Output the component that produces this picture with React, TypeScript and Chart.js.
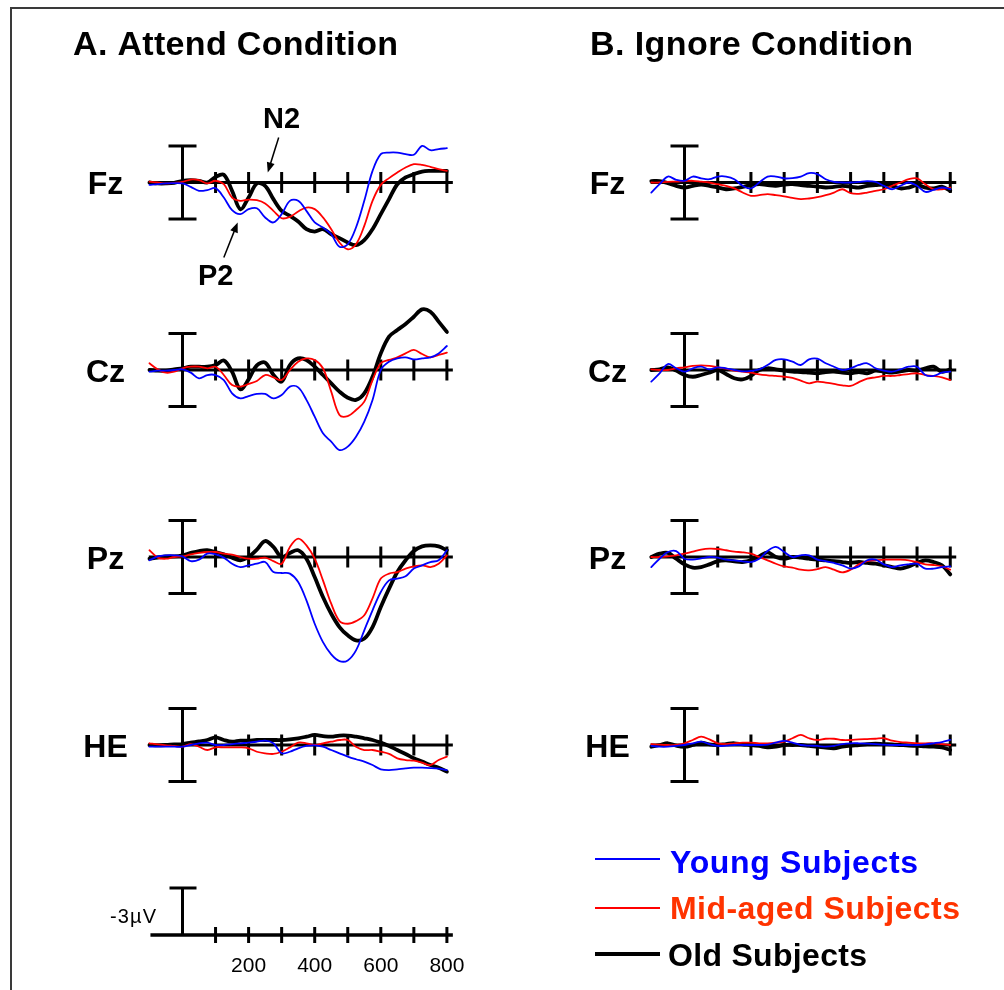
import React, { useEffect, useRef } from "react";
import { Chart, registerables } from "chart.js";

Chart.register(...registerables);

// ---------------- DATA ----------------
const times = [-100, -75, -50, -25, 0, 25, 50, 75, 100, 125, 150, 175, 200, 225, 250, 275, 300, 325, 350, 375, 400, 425, 450, 475, 500, 525, 550, 575, 600, 625, 650, 675, 700, 725, 750, 775, 800];

const electrodes = ["Fz", "Cz", "Pz", "HE"];
const conditionTitles = ["A. Attend Condition", "B. Ignore Condition"];
const groups = ["Young Subjects", "Mid-aged Subjects", "Old Subjects"];
const timeTicks = [100, 200, 300, 400, 500, 600, 700, 800];
const timeLabelValues = [200, 400, 600, 800];
const timeLabels = ["200", "400", "600", "800"];
const scaleBarLabel = "-3\u00b5V";
const scaleBarValue = -3;
const peakLabels = ["N2", "P2"];

// Attend condition (µV, positive plotted downward)
const attendFzYoung = [0.15, 0.1, 0.06, 0.04, 0.06, 0.28, 0.53, 0.49, 0.36, 0.96, 1.77, 2.02, 1.7, 1.64, 2.23, 2.55, 2.02, 1.17, 1.17, 1.81, 2.55, 2.87, 3.3, 4.1, 3.94, 2.87, 1.17, -0.74, -1.81, -1.91, -1.91, -1.81, -1.77, -2.34, -2.06, -2.13, -2.19];
const attendFzMid = [-0.06, 0, 0.06, 0.02, -0.04, -0.19, -0.15, 0.06, -0.11, 0.11, 0.96, 1.17, 1.09, 1.13, 1.34, 1.81, 2.28, 2.19, 1.85, 1.6, 1.7, 2.23, 2.98, 3.83, 4.26, 3.94, 2.77, 1.17, 0.15, -0.28, -0.64, -0.96, -1.17, -1.13, -1.0, -0.85, -0.74];
const attendFzOld = [0, 0.06, 0.06, 0.02, -0.11, -0.15, -0.11, 0, -0.36, -0.49, 0.53, 1.7, 0.96, 0.06, 0.21, 1.06, 1.81, 2.13, 2.49, 2.98, 3.13, 2.98, 3.3, 3.55, 3.83, 4.0, 3.68, 2.98, 2.02, 1.06, 0.11, -0.32, -0.53, -0.7, -0.74, -0.74, -0.74];

const attendCzYoung = [0.11, 0.04, 0.04, 0, -0.04, 0.17, 0.53, 0.32, 0.32, 0.64, 1.49, 1.81, 1.66, 1.53, 1.53, 1.81, 1.6, 1.06, 1.11, 1.91, 2.98, 4.04, 4.57, 5.11, 4.89, 4.26, 3.3, 1.91, 0, -0.53, -0.74, -0.81, -0.68, -0.74, -0.81, -1.06, -1.53];
const attendCzMid = [-0.43, -0.04, 0.17, 0.11, -0.11, -0.21, -0.21, -0.11, -0.21, 0.32, 0.96, 1.06, 0.89, 0.7, 0.32, 0.47, 0.64, 0, -0.53, -0.74, -0.64, -0.11, 1.38, 2.87, 2.94, 2.55, 2.02, 0.64, -0.43, -0.64, -0.81, -1.06, -1.28, -1.02, -0.81, -0.96, -1.11];
const attendCzOld = [0, 0.04, 0.04, -0.04, -0.11, -0.21, -0.21, -0.21, -0.32, -0.6, 0.11, 1.23, 0.6, -0.3, -0.47, 0.3, 0.74, -0.32, -0.74, -0.64, -0.21, 0.32, 0.85, 1.38, 1.77, 1.91, 1.49, 0.43, -1.06, -2.13, -2.55, -2.94, -3.4, -3.87, -3.72, -3.09, -2.43];

const attendPzYoung = [0.21, -0.04, -0.11, -0.11, -0.04, 0.26, 0.17, -0.21, -0.17, 0.04, 0.43, 0.64, 0.53, 0.43, 0.32, 0.96, 1.02, 1.06, 1.6, 2.77, 4.26, 5.43, 6.21, 6.64, 6.6, 5.96, 4.68, 3.4, 2.23, 1.49, 1.38, 1.23, 0.74, 0.53, 0.32, 0.21, -0.43];
const attendPzMid = [-0.43, 0.04, 0.11, 0, -0.04, -0.17, -0.26, -0.32, -0.32, -0.21, -0.15, 0, 0.11, 0.11, 0.04, 0.26, 0.43, -0.64, -1.17, -0.74, 0.11, 1.49, 2.98, 4.09, 4.26, 4.09, 3.72, 2.64, 1.38, 1.06, 0.96, 0.74, 0.6, 0.53, 0.64, 0.43, -0.11];
const attendPzOld = [0.11, 0.04, -0.04, -0.04, -0.11, -0.26, -0.38, -0.43, -0.32, -0.17, 0.04, 0.21, 0, -0.47, -1.02, -0.64, 0, -0.26, -0.43, 0.11, 1.28, 2.55, 3.62, 4.47, 5.0, 5.32, 5.21, 4.47, 3.19, 2.02, 0.96, 0.21, -0.38, -0.68, -0.74, -0.68, -0.43];

const attendHEYoung = [0.11, 0.11, 0.11, 0.11, 0.11, 0, -0.11, -0.15, 0, 0, -0.06, -0.11, -0.15, -0.21, -0.28, -0.11, 0.53, 0.43, 0.21, 0.06, 0.02, 0.11, 0.32, 0.53, 0.74, 0.91, 1.06, 1.28, 1.55, 1.6, 1.55, 1.49, 1.45, 1.45, 1.47, 1.51, 1.6];
const attendHEMid = [-0.11, -0.04, 0.02, 0.06, 0.11, -0.06, 0.11, 0.32, 0.15, 0.15, 0.15, 0.15, 0.21, 0.43, 0.53, 0.57, 0.43, 0.15, -0.15, -0.11, 0, -0.11, -0.21, -0.32, -0.32, 0.11, 0.32, 0.32, 0.43, 0.57, 0.85, 0.96, 1.0, 1.13, 1.28, 0.96, 0.74];
const attendHEOld = [0, 0.02, 0, -0.04, -0.06, -0.15, -0.23, -0.32, -0.49, -0.32, -0.21, -0.28, -0.28, -0.32, -0.32, -0.32, -0.32, -0.36, -0.43, -0.53, -0.64, -0.57, -0.53, -0.6, -0.6, -0.53, -0.43, -0.32, -0.15, 0.06, 0.32, 0.57, 0.85, 1.06, 1.28, 1.45, 1.7];

// Ignore condition
const ignoreFzYoung = [0.64, 0.11, -0.38, -0.17, -0.11, -0.38, -0.26, -0.21, -0.38, -0.38, -0.21, 0.21, 0.38, 0, -0.38, -0.38, -0.26, -0.28, -0.38, -0.6, -0.53, -0.21, -0.04, 0, 0, -0.04, -0.09, -0.04, 0.21, 0.43, 0.21, 0, 0.21, 0.6, 0.47, 0.32, 0.43];
const ignoreFzMid = [0, 0, -0.04, -0.06, -0.09, -0.11, -0.06, 0, 0.11, 0.21, 0.38, 0.64, 0.85, 0.81, 0.74, 0.81, 0.89, 0.98, 1.06, 1.02, 0.94, 0.81, 0.64, 0.43, 0.68, 0.72, 0.64, 0.53, 0.43, 0.21, 0, -0.21, -0.26, 0.11, 0.43, 0.43, 0.32];
const ignoreFzOld = [-0.09, -0.09, 0.04, 0.21, 0.32, 0.21, 0.13, 0.21, 0.32, 0.43, 0.38, 0.28, 0.17, 0.11, 0.17, 0.21, 0.13, 0.11, 0.17, 0.21, 0.26, 0.32, 0.28, 0.21, 0.26, 0.32, 0.21, 0.17, 0.13, 0.21, 0.38, 0.32, 0.17, 0.32, 0.38, 0.26, 0.53];

const ignoreCzYoung = [0.74, 0.21, -0.38, -0.11, 0.11, -0.11, -0.21, -0.04, -0.17, -0.11, 0, 0.09, 0.06, -0.04, -0.32, -0.64, -0.68, -0.53, -0.32, -0.68, -0.72, -0.43, -0.21, 0, -0.11, -0.32, -0.43, -0.11, 0.04, 0.11, -0.04, -0.21, -0.21, 0.32, 0.38, 0.17, 0.11];
const ignoreCzMid = [-0.04, 0, 0, -0.11, -0.17, -0.26, -0.3, -0.26, -0.17, -0.09, 0.04, 0.11, 0.17, 0.28, 0.34, 0.38, 0.43, 0.51, 0.68, 0.85, 0.74, 0.81, 0.89, 0.98, 1.02, 0.77, 0.55, 0.47, 0.38, 0.38, 0.32, 0.26, 0.21, 0.32, 0.38, 0.47, 0.64];
const ignoreCzOld = [0, -0.04, -0.17, 0.04, 0.32, 0.43, 0.32, 0.17, 0, 0.26, 0.53, 0.6, 0.38, 0, -0.11, -0.04, 0.04, 0.11, 0.13, 0.17, 0.21, 0.13, 0.11, 0.17, 0.21, 0.13, 0.21, 0.04, 0.11, 0.17, 0.09, 0, 0.04, -0.11, -0.21, 0.11, -0.04];

const ignorePzYoung = [0.64, 0.11, -0.32, -0.38, 0.11, 0.17, 0.09, 0, 0.04, 0.17, 0.21, 0.28, 0.32, 0.11, -0.38, -0.64, -0.32, 0, -0.11, -0.11, 0.17, 0.26, 0.38, 0.53, 0.74, 0.6, 0.21, 0.17, 0.47, 0.64, 0.53, 0.47, 0.43, 0.74, 0.74, 0.64, 0.6];
const ignorePzMid = [0, 0, -0.04, -0.11, -0.21, -0.34, -0.47, -0.53, -0.51, -0.43, -0.34, -0.3, -0.21, 0, 0.21, 0.43, 0.6, 0.68, 0.81, 0.85, 0.77, 0.64, 0.81, 0.98, 0.81, 0.47, 0.26, 0.21, 0.17, 0.17, 0.17, 0.21, 0.32, 0.47, 0.51, 0.6, 0.81];
const ignorePzOld = [0, -0.21, -0.26, 0.11, 0.47, 0.68, 0.64, 0.47, 0.26, 0.21, 0.28, 0.32, 0.21, -0.04, -0.3, 0, 0.11, 0, 0.04, 0.11, 0.17, 0.21, 0.26, 0.32, 0.38, 0.32, 0.38, 0.43, 0.53, 0.64, 0.74, 0.6, 0.38, 0.21, 0.32, 0.53, 1.11];

const ignoreHEYoung = [0.06, 0.11, 0.11, 0.06, 0, -0.11, -0.21, -0.06, 0.06, 0.04, 0, 0, 0, 0, -0.02, -0.15, -0.26, -0.15, 0, 0.04, 0.06, 0.11, 0.06, -0.06, -0.11, -0.11, -0.09, -0.06, -0.02, 0, 0, 0, 0, -0.04, -0.11, -0.19, -0.32];
const ignoreHEMid = [-0.06, -0.02, 0, 0, -0.11, -0.32, -0.53, -0.36, -0.11, -0.06, -0.11, -0.15, -0.15, -0.11, -0.11, -0.15, -0.21, -0.43, -0.64, -0.43, -0.32, -0.4, -0.4, -0.32, -0.32, -0.36, -0.38, -0.4, -0.43, -0.28, -0.19, -0.15, -0.11, -0.11, -0.11, -0.06, 0];
const ignoreHEOld = [0.11, 0, -0.11, 0.04, 0.11, 0, -0.15, -0.04, 0, -0.06, -0.11, -0.04, 0, 0.06, 0.15, 0.11, 0, 0, 0, 0.06, 0.11, 0.17, 0.21, 0.11, 0.04, 0, -0.06, -0.09, -0.06, -0.04, 0, 0.04, 0.06, 0.09, 0.11, 0.15, 0.32];

const attendSeries = [
  [attendFzYoung, attendFzMid, attendFzOld],
  [attendCzYoung, attendCzMid, attendCzOld],
  [attendPzYoung, attendPzMid, attendPzOld],
  [attendHEYoung, attendHEMid, attendHEOld],
];
const ignoreSeries = [
  [ignoreFzYoung, ignoreFzMid, ignoreFzOld],
  [ignoreCzYoung, ignoreCzMid, ignoreCzOld],
  [ignorePzYoung, ignorePzMid, ignorePzOld],
  [ignoreHEYoung, ignoreHEMid, ignoreHEOld],
];

// ---------------- LAYOUT / STYLE ----------------
const W = 1004;
const H = 990;
const FONT = '"Liberation Sans", Arial, Helvetica, sans-serif';
const groupColors = ["#0000ff", "#ff0000", "#000000"];
const groupTextColors = ["#0000ff", "#ff3300", "#000000"];
const groupWidths = [1.8, 1.8, 3.8];

const ZERO_X = [182.5, 684.5];
const PX_PER_MS = [0.3305, 0.3322];
const PX_PER_UV = 15.67;
const ROW_Y = [182.5, 370, 557, 745];
const SCALE_ROW_Y = 935;
const AXIS_START = -102;
const AXIS_END = 818;
const IBAR_UV = 2.33;

function xScaleOpts(c: number) {
  const z = ZERO_X[c];
  const k = PX_PER_MS[c];
  return { type: "linear", axis: "x", position: "bottom", display: false, min: -z / k, max: (W - z) / k };
}
function yScaleOpts(zeroY: number) {
  return { type: "linear", axis: "y", position: "left", display: false, reverse: true, min: -zeroY / PX_PER_UV, max: (H - zeroY) / PX_PER_UV };
}

function line(ctx: any, x1: number, y1: number, x2: number, y2: number) {
  ctx.beginPath();
  ctx.moveTo(x1, y1);
  ctx.lineTo(x2, y2);
  ctx.stroke();
}

function spacedText(ctx: any, text: string, x: number, y: number, targetWidth: number) {
  ctx.letterSpacing = "0px";
  const w = ctx.measureText(text).width;
  const n = Math.max(1, text.length - 1);
  const sp = (targetWidth - w) / n;
  ctx.letterSpacing = sp + "px";
  ctx.fillText(text, x, y);
  ctx.letterSpacing = "0px";
}

function arrow(ctx: any, x1: number, y1: number, x2: number, y2: number) {
  const ang = Math.atan2(y2 - y1, x2 - x1);
  const hl = 10;
  const hw = 4;
  ctx.lineWidth = 1.5;
  line(ctx, x1, y1, x2 - Math.cos(ang) * hl * 0.8, y2 - Math.sin(ang) * hl * 0.8);
  ctx.beginPath();
  ctx.moveTo(x2, y2);
  ctx.lineTo(x2 - Math.cos(ang) * hl - Math.sin(ang) * hw, y2 - Math.sin(ang) * hl + Math.cos(ang) * hw);
  ctx.lineTo(x2 - Math.cos(ang) * hl + Math.sin(ang) * hw, y2 - Math.sin(ang) * hl - Math.cos(ang) * hw);
  ctx.closePath();
  ctx.fill();
}

const decor = {
  id: "erpDecor",
  beforeDatasetsDraw(chart: any) {
    const ctx = chart.ctx;
    ctx.save();
    ctx.strokeStyle = "#000";
    ctx.fillStyle = "#000";
    ctx.lineCap = "butt";
    ["xA", "xB"].forEach((xid) => {
      const xs = chart.scales[xid];
      for (let r = 0; r < electrodes.length; r++) {
        const ys = chart.scales["y" + r];
        const y0 = ys.getPixelForValue(0);
        ctx.lineWidth = 3;
        line(ctx, xs.getPixelForValue(AXIS_START), y0, xs.getPixelForValue(AXIS_END), y0);
        timeTicks.forEach((t) => {
          const x = xs.getPixelForValue(t);
          line(ctx, x, y0 - 10.5, x, y0 + 10.5);
        });
        const x0 = xs.getPixelForValue(0);
        const yt = ys.getPixelForValue(-IBAR_UV);
        const yb = ys.getPixelForValue(IBAR_UV);
        line(ctx, x0, yt, x0, yb);
        line(ctx, x0 - 14, yt, x0 + 14, yt);
        line(ctx, x0 - 14, yb, x0 + 14, yb);
        ctx.font = "bold 32px " + FONT;
        ctx.textAlign = "center";
        ctx.textBaseline = "alphabetic";
        ctx.fillText(electrodes[r], x0 - 77, y0 + 11.5);
      }
    });

    // Scale panel (bottom left)
    const xs = chart.scales.xA;
    const ysS = chart.scales.yS;
    const yS0 = ysS.getPixelForValue(0);
    ctx.lineWidth = 3.5;
    line(ctx, xs.getPixelForValue(-97), yS0, xs.getPixelForValue(AXIS_END), yS0);
    ctx.lineWidth = 3;
    timeTicks.forEach((t) => {
      const x = xs.getPixelForValue(t);
      line(ctx, x, yS0 - 8, x, yS0 + 8);
    });
    const sx0 = xs.getPixelForValue(0);
    const sTop = ysS.getPixelForValue(scaleBarValue);
    line(ctx, sx0, yS0, sx0, sTop);
    line(ctx, sx0 - 13, sTop, sx0 + 14, sTop);
    ctx.font = "21px " + FONT;
    ctx.textAlign = "center";
    timeLabelValues.forEach((t, i) => {
      ctx.fillText(timeLabels[i], xs.getPixelForValue(t), yS0 + 37);
    });
    ctx.font = "20px " + FONT;
    ctx.textAlign = "left";
    spacedText(ctx, scaleBarLabel, 110, 923, 46);
    ctx.restore();
  },
  afterDatasetsDraw(chart: any) {
    const ctx = chart.ctx;
    ctx.save();
    ctx.fillStyle = "#000";
    ctx.strokeStyle = "#000";
    ctx.textAlign = "left";
    ctx.textBaseline = "alphabetic";
    // Titles
    ctx.font = "bold 34px " + FONT;
    spacedText(ctx, conditionTitles[0], 73, 55, 325);
    spacedText(ctx, conditionTitles[1], 590, 55, 323);

    // N2 / P2 annotations (attend Fz)
    const xs = chart.scales.xA;
    const ys = chart.scales.y0;
    ctx.font = "bold 29px " + FONT;
    ctx.fillText(peakLabels[0], 263, 128);
    ctx.fillText(peakLabels[1], 198, 285);
    arrow(ctx, xs.getPixelForValue(291), ys.getPixelForValue(-2.87), xs.getPixelForValue(258), ys.getPixelForValue(-0.64));
    arrow(ctx, xs.getPixelForValue(125), ys.getPixelForValue(4.79), xs.getPixelForValue(167), ys.getPixelForValue(2.55));

    // Legend
    const legY = [859, 908, 954];
    const legBase = [873, 919, 966];
    const legTextX = [670, 670, 668];
    const legWidth = [248, 290, 199];
    ctx.font = "bold 32px " + FONT;
    groups.forEach((g, i) => {
      ctx.strokeStyle = groupColors[i];
      ctx.lineWidth = i === 2 ? 4 : 2;
      line(ctx, 595, legY[i], 660, legY[i]);
      ctx.fillStyle = groupTextColors[i];
      spacedText(ctx, g, legTextX[i], legBase[i], legWidth[i]);
    });
    ctx.restore();
  },
};

export default function App() {
  const ref = useRef<HTMLCanvasElement>(null);
  useEffect(() => {
    const canvas = ref.current;
    if (!canvas) return;
    const datasets: any[] = [];
    [attendSeries, ignoreSeries].forEach((cond, c) => {
      cond.forEach((row, r) => {
        row.forEach((vals, g) => {
          datasets.push({
            label: conditionTitles[c] + " " + electrodes[r] + " " + groups[g],
            data: times.map((t, i) => ({ x: t, y: vals[i] })),
            xAxisID: c === 0 ? "xA" : "xB",
            yAxisID: "y" + r,
            borderColor: groupColors[g],
            backgroundColor: groupColors[g],
            borderWidth: groupWidths[g],
            pointRadius: 0,
            tension: 0.35,
            fill: false,
            order: g,
            borderJoinStyle: "round",
            borderCapStyle: "round",
          });
        });
      });
    });
    const chart = new Chart(canvas, {
      type: "line",
      data: { datasets },
      options: {
        responsive: false,
        animation: false,
        devicePixelRatio: 1,
        events: [],
        layout: { padding: 0 },
        plugins: { legend: { display: false }, tooltip: { enabled: false }, title: { display: false } },
        scales: {
          xA: xScaleOpts(0),
          xB: xScaleOpts(1),
          y0: yScaleOpts(ROW_Y[0]),
          y1: yScaleOpts(ROW_Y[1]),
          y2: yScaleOpts(ROW_Y[2]),
          y3: yScaleOpts(ROW_Y[3]),
          yS: yScaleOpts(SCALE_ROW_Y),
        },
      } as any,
      plugins: [decor as any],
    });
    return () => chart.destroy();
  }, []);
  return (
    <div style={{ position: "absolute", left: 0, top: 0, width: W, height: H, background: "#fff", overflow: "hidden" }}>
      <div style={{ position: "absolute", left: 10, top: 7, width: W, height: H, borderLeft: "2px solid #3a3a3a", borderTop: "2px solid #3a3a3a" }} />
      <canvas ref={ref} width={W} height={H} style={{ position: "absolute", left: 0, top: 0, display: "block" }} />
    </div>
  );
}
